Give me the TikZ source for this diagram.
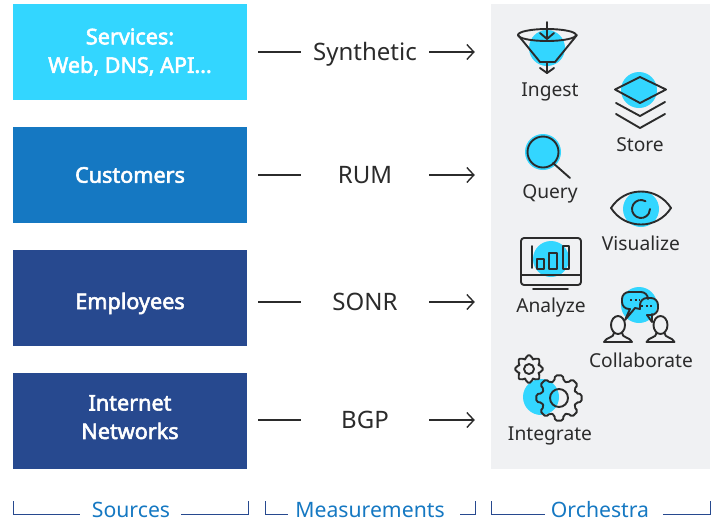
\documentclass[tikz,border=0pt]{standalone}
\usepackage{fontspec}
\setmainfont{Noto Sans}
\newfontfamily\sourcefont{Noto Sans}[FakeBold=2.6]
\usetikzlibrary{arrows.meta}
\definecolor{skyfill}{HTML}{33D6FF}
\definecolor{midblue}{HTML}{1578C2}
\definecolor{deepblue}{HTML}{27498F}
\definecolor{panelgray}{HTML}{F0F1F3}
\definecolor{inkdark}{HTML}{2B2B2B}
\tikzset{
  source/.style={minimum width=234pt, minimum height=96pt, inner sep=0pt, text=white, align=center, font=\sourcefont\fontsize{21.6}{28.5}\selectfont},
  measure/.style={minimum width=128pt, minimum height=26pt, inner sep=0pt, text height=16pt, text depth=0pt, text=inkdark, font=\fontsize{24}{28}\selectfont},
  tool/.style={inner sep=0pt, text height=14pt, text depth=0pt, text=inkdark, font=\fontsize{19.2}{23}\selectfont},
  footer/.style={inner sep=0pt, text height=15pt, text depth=0pt, text=midblue, font=\fontsize{21.2}{26}\selectfont},
  spot/.style={fill=skyfill, draw=none},
  iconline/.style={draw=inkdark, line width=1.9pt, line join=round, line cap=round},
  bracket/.style={draw=deepblue, line width=1pt}
}
\begin{document}
\begin{tikzpicture}[x=1pt, y=-1pt,
                    every edge/.style={draw=inkdark, line width=1.4pt}]
    \useasboundingbox (0,0) rectangle (719,523);

    % Sources
    \node[source, fill=skyfill] (S) at (130,52) {Services:\\Web, DNS, API...};
    \node[source, fill=midblue] (C) at (130,175) {Customers};
    \node[source, fill=deepblue, text height=25pt, text depth=3pt] (E) at (130,298) {Employees};
    \node[source, fill=deepblue, text depth=8pt] (N) at (130,421) {Internet\\Networks};

    % Orchestra panel
    \node[fill=panelgray, minimum width=219pt, minimum height=465pt, inner sep=0pt] (P) at (600.5,236.5) {};

    % Measurements
    \node[measure] (MS) at (365,52) {Synthetic};
    \node[measure] (MR) at (365,175) {RUM};
    \node[measure] (MN) at (365,302) {SONR};
    \node[measure] (MB) at (365,420) {BGP};

    % Define edges
    \path [shorten <=11pt] (S.east |- MS) edge (MS.west);
    \path [shorten <=11pt] (C.east |- MR) edge (MR.west);
    \path [shorten <=11pt] (E.east |- MN) edge (MN.west);
    \path [shorten <=11pt] (N.east |- MB) edge (MB.west);
    \path [-{Straight Barb[length=7pt, width=15pt]}, shorten >=16pt] (MS.east) edge (MS.east -| P.west);
    \path [-{Straight Barb[length=7pt, width=15pt]}, shorten >=16pt] (MR.east) edge (MR.east -| P.west);
    \path [-{Straight Barb[length=7pt, width=15pt]}, shorten >=16pt] (MN.east) edge (MN.east -| P.west);
    \path [-{Straight Barb[length=7pt, width=15pt]}, shorten >=16pt] (MB.east) edge (MB.east -| P.west);

    % Blue spots behind the icons
    \fill[spot] (547,48) circle (18);
    \fill[spot] (639,90) circle (18);
    \fill[spot] (543,152) circle (18);
    \fill[spot] (641,209) circle (18);
    \fill[spot] (551,259) circle (18);
    \fill[spot] (639,305) circle (18);
    \fill[spot] (541,397) circle (18);

    % Ingest
    \draw[iconline] (547,35) ellipse (29 and 6);
    \draw[iconline] (518,35) -- (540,62) -- (555,62) -- (577,35);
    \draw[iconline] (547,22) -- (547,39);
    \draw[iconline] (540,33) -- (547,39) -- (554,33);
    \draw[iconline] (547,62) -- (547,73);
    \draw[iconline] (540,68) -- (547,73) -- (554,68);
    \node[tool] (ingest) at (550,89) {Ingest};

    % Store
    \draw[iconline] (615,89.5) -- (640,77) -- (666,89.5) -- (640,103) -- cycle;
    \draw[iconline] (616,103) -- (640,116) -- (665,102);
    \draw[iconline] (616,114) -- (640,128) -- (665,114);
    \node[tool] (store) at (640,144) {Store};

    % Query
    \draw[iconline] (543,152) circle (15.5);
    \draw[iconline] (553,163) -- (570,178);
    \node[tool] (query) at (550,191) {Query};

    % Visualize
    \draw[iconline] (611,208) .. controls (625,186) and (657,186) .. (671,208) .. controls (657,230) and (625,230) .. (611,208) -- cycle;
    \draw[iconline] (645.5,201.2) arc[start angle=-60, end angle=-360, radius=9];
    \node[tool] (visualize) at (641,243) {Visualize};

    % Analyze
    \draw[iconline, rounded corners=3pt] (521,238) rectangle (581,285);
    \draw[iconline] (521,275) -- (581,275);
    \draw[iconline] (533,289) -- (568,289);
    \draw[iconline] (532,246) -- (532,268);
    \draw[iconline] (537,259) rectangle (544,269);
    \draw[iconline] (549,253) rectangle (557,269);
    \draw[iconline] (563,246) rectangle (569,269);
    \node[tool] (analyze) at (551,305) {Analyze};

    % Collaborate
    \draw[iconline, rounded corners=7pt] (630,309) -- (622,309) -- (622,292) -- (648,292) -- (648,298);
    \draw[iconline] (630,309) -- (625,320) -- (635,308) -- (640,309);
    \draw[iconline, rounded corners=7pt] (640,309) -- (640,298) -- (658,298) -- (658,315) -- (647,315);
    \draw[iconline] (647,315) -- (652,322) -- (652,314);
    \draw[draw=inkdark, line width=1.7pt, dash pattern=on 2pt off 2.5pt] (630,300) -- (640,300);
    \draw[draw=inkdark, line width=1.7pt, dash pattern=on 2pt off 2.5pt] (641,306) -- (653,306);
    \foreach \cx/\wide in {618/14, 660.5/14} {
        \draw[iconline] (\cx,325) ellipse (7 and 9);
        \draw[iconline] (\cx-\wide,342) .. controls (\cx-\wide+2,337) and (\cx-4,338) .. (\cx-4,333);
        \draw[iconline] (\cx+\wide,342) .. controls (\cx+\wide-2,337) and (\cx+4,338) .. (\cx+4,333);
        \draw[iconline] (\cx-\wide,342) -- (\cx+\wide,342);
    }
    \node[tool] (collaborate) at (641,360) {Collaborate};

    % Integrate
    \foreach \cx/\cy/\ro/\ri/\rh in {559/398/23/17.5/9, 529/369/14/10.5/5} {
        \draw[iconline] (\cx,\cy) circle (\rh);
        \draw[iconline, rounded corners=1.8pt] ([shift={(\cx,\cy)}]-15:\ri)
            \foreach \a in {0,45,...,315} {
                -- ([shift={(\cx,\cy)}]\a-15:\ri) -- ([shift={(\cx,\cy)}]\a-10:\ro) -- ([shift={(\cx,\cy)}]\a+10:\ro) -- ([shift={(\cx,\cy)}]\a+15:\ri)
            } -- cycle;
    }
    \node[tool] (integrate) at (550,433) {Integrate};

    % Footer
    \node[footer] (FS) at (131,509.5) {Sources};
    \node[footer] (FM) at (370,509.5) {Measurements};
    \node[footer] (FO) at (600,509.5) {Orchestra};
    \draw[bracket] (13,501) |- (80,514);
    \draw[bracket] (248,501) |- (181,514);
    \draw[bracket] (265,501) |- (288,514);
    \draw[bracket] (475,501) |- (460,514);
    \draw[bracket] (491,501) |- (545,514);
    \draw[bracket] (710,501) |- (663,514);
\end{tikzpicture}
\end{document}
